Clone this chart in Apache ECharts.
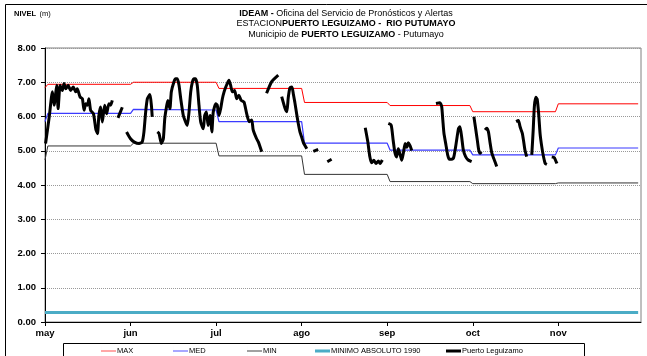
<!DOCTYPE html>
<html><head><meta charset="utf-8">
<script src="https://cdn.jsdelivr.net/npm/echarts@6/dist/echarts.min.js"></script>
<style>html,body{margin:0;padding:0;background:#fff}#c{width:647px;height:356px}</style>
</head><body><div id="c"></div>
<script>
// Month tick labels and their day positions (days since 1 May)
const monthLabels = ['may','jun','jul','ago','sep','oct','nov'];
const monthTicks = [0,30,60,90,120,150,180];
const yTicks = [0,1,2,3,4,5,6,7,8];

// Historical reference levels [day, level]
const maxLevel = [[0,6.84],[1,6.94],[30,6.94],[31,7.0],[60,7.0],[61,6.82],[90,6.82],[91,6.41],[120,6.41],[121,6.32],[149,6.32],[150,6.14],[179,6.14],[180,6.37],[208,6.37]];
const medLevel = [[0,5.85],[1,6.09],[30,6.09],[31,6.21],[60,6.19],[61,5.85],[90,5.85],[91,5.22],[120,5.22],[121,5.02],[149,5.02],[150,4.88],[179,4.88],[180,5.08],[208,5.08]];
const minLevel = [[0,4.73],[1,5.14],[30,5.14],[31,5.22],[60,5.22],[61,4.85],[90,4.85],[91,4.31],[120,4.31],[121,4.10],[149,4.10],[150,4.04],[179,4.04],[180,4.06],[208,4.06]];
const minAbs1990 = [[0,0.28],[208,0.28]];

// Observed levels, Puerto Leguizamo (segments separated by missing data)
const obs1 = [[0.2,5.21],[1.5,6.0],[2.6,6.72],[3.2,6.33],[4.1,6.91],[4.6,6.23],[5.3,6.91],[6.1,6.76],[6.7,6.96],[7.3,6.81],[8.1,6.91],[9.0,6.76],[9.9,6.86],[10.8,6.72],[11.3,6.81],[12.3,6.57],[13.1,6.52],[13.7,6.18],[14.3,6.37],[14.9,6.33],[15.4,6.52],[16.0,6.18],[17.0,6.08],[17.8,5.64],[18.4,5.50],[18.9,6.03],[19.5,6.28],[20.1,5.84],[20.9,6.33],[21.6,6.08],[22.4,6.37],[23.0,6.33],[23.6,6.47]];
const obs2 = [[25.6,5.96],[27.1,6.27]];
const obs3 = [[28.6,5.55],[30.0,5.35],[31.2,5.26],[33.0,5.21],[34.1,5.26],[34.7,5.55],[35.3,6.13],[35.9,6.52],[36.8,6.64],[37.3,6.33],[37.6,5.99]];
const obs4 = [[39.4,5.55],[40.0,5.50],[40.8,5.21],[41.5,5.35],[42.0,5.94],[42.7,6.33],[43.1,6.47],[43.8,6.23],[44.3,6.72],[45.2,7.01],[45.8,7.10],[46.4,7.10],[47.0,6.91],[47.6,6.52],[48.5,6.03],[49.3,5.84],[49.9,5.74],[50.5,6.13],[51.1,6.72],[51.7,7.01],[52.3,7.10],[52.8,7.10],[53.4,6.91],[54.0,6.33],[54.6,5.84],[55.5,5.64],[56.0,6.03],[56.6,6.13],[57.2,5.74],[57.9,6.03],[58.5,5.55],[59.0,6.13],[59.9,6.37],[60.4,6.33],[61.0,6.03],[61.6,6.23],[62.2,6.52],[62.8,6.72],[63.4,6.86],[63.9,6.96],[64.5,7.06],[65.1,6.91],[65.7,6.72],[66.5,6.76],[67.2,6.52],[68.0,6.62],[68.8,6.47],[69.8,6.42],[70.7,6.09],[71.6,5.85],[72.5,5.90],[73.0,5.61],[74.2,5.35],[74.8,5.26],[76.0,4.97]];
const obs5 = [[77.7,6.68],[79.5,7.02],[81.8,7.21]];
const obs6 = [[83.0,6.58],[84.2,6.23],[84.8,6.14],[85.3,6.55],[85.9,6.84],[86.6,6.86],[87.1,6.65],[87.6,6.42],[88.3,6.05],[88.8,5.80],[89.4,5.55],[90.0,5.40],[90.6,5.24],[91.8,5.06]];
const obs7 = [[94.1,4.98],[95.8,5.04]];
const obs8 = [[99.0,4.68],[100.5,4.75]];
const obs9 = [[112.3,5.67],[113.2,5.26],[113.9,4.83],[114.5,4.65],[115.3,4.72],[116.1,4.63],[116.9,4.70],[117.5,4.63],[118.3,4.73]];
const obs10 = [[120.4,5.80],[121.4,5.75],[122.1,5.30],[122.7,4.95],[123.3,4.82],[123.9,5.06],[124.5,4.90],[125.1,4.72],[125.7,4.95],[126.3,5.21],[126.9,5.10],[127.4,5.23],[128.0,5.15],[128.6,5.01]];
const obs11 = [[137.1,6.38],[138.5,6.40],[139.1,6.29],[139.5,5.90],[139.9,5.51],[140.6,5.17],[141.2,4.88],[141.8,4.75],[143.2,4.78],[144.0,5.12],[145.0,5.65],[145.5,5.70],[146.1,5.41],[146.7,5.02],[147.5,4.83],[148.4,4.73],[149.6,4.68]];
const obs12 = [[150.4,5.99],[151.1,5.60],[151.6,5.31],[152.1,5.02],[152.6,4.93],[153.0,4.97]];
const obs13 = [[154.3,5.61],[154.9,5.66],[155.5,5.55],[156.1,5.22],[156.7,4.93],[157.8,4.68],[158.4,4.54]];
const obs14 = [[165.2,5.85],[166.0,5.88],[166.6,5.70],[167.0,5.60],[167.4,5.50],[167.8,5.30],[168.3,5.02],[168.9,4.83]];
const obs15 = [[170.7,4.88],[171.2,5.61],[171.6,6.29],[172.1,6.56],[172.6,6.50],[173.1,6.09],[173.6,5.51],[174.2,5.12],[174.8,4.83],[175.4,4.63],[176.0,4.60]];
const obs16 = [[177.7,4.82],[178.6,4.80],[179.5,4.63]];
const obsSegments = [obs1,obs2,obs3,obs4,obs5,obs6,obs7,obs8,obs9,obs10,obs11,obs12,obs13,obs14,obs15,obs16];

const FONT = 'Liberation Sans, Arial, sans-serif';
const chart = echarts.init(document.getElementById('c'), null, {renderer:'canvas'});

const refLine = (name, data, color, width) => ({
  name, type:'line', data, symbol:'none', silent:true, animation:false,
  lineStyle:{color, width}, itemStyle:{color}, z:2
});

const series = [
  refLine('MAX', maxLevel, '#ff0000', 1),
  refLine('MED', medLevel, '#3b3bff', 1.2),
  refLine('MIN', minLevel, '#333333', 1),
  refLine('MINIMO ABSOLUTO 1990', minAbs1990, '#4bacc6', 3)
];
obsSegments.forEach(seg => series.push({
  name:'Puerto Leguizamo', type:'line', data:seg, symbol:'none', smooth:0.2,
  animation:false, lineStyle:{color:'#000', width:3}, itemStyle:{color:'#000'}, z:5
}));

// legend icon: a horizontal bar of given thickness inside a 15x10 box
const barIcon = t => `path://M0,${5 - t/2}H15V${5 + t/2}H0Z M0,0H0.01V10H0Z`;
const legendPos = [['MAX',101,1,'#ff5050'],['MED',173,1,'#5050ff'],['MIN',247,1,'#444444'],['MINIMO ABSOLUTO 1990',315,3,'#4bacc6'],['Puerto Leguizamo',446,3,'#000000']];

chart.setOption({
  animation:false,
  backgroundColor:'#fff',
  title:{
    left:341, top:3, textAlign:'center',
    text:'{b|IDEAM - }{n|Oficina del Servicio de Pronósticos y Alertas}\n{n|ESTACION}{b|PUERTO LEGUIZAMO -  RIO PUTUMAYO}\n{n|Municipio de }{b|PUERTO LEGUIZAMO}{n| - Putumayo}',
    textStyle:{
      fontFamily:FONT, fontSize:9, fontWeight:'normal', lineHeight:10.5, color:'#000',
      rich:{
        b:{fontFamily:FONT, fontSize:9, fontWeight:'bold', lineHeight:10.5, color:'#000'},
        n:{fontFamily:FONT, fontSize:9, fontWeight:'normal', lineHeight:10.5, color:'#000'}
      }
    }
  },
  graphic:[
    {type:'rect', shape:{x:5.5, y:4.5, width:650, height:360}, style:{fill:'none', stroke:'#000', lineWidth:1}, silent:true, z:-1},
    {type:'text', x:14, y:8, style:{text:'{b|NIVEL} {n|(m)}', rich:{b:{fontFamily:FONT,fontSize:7.5,fontWeight:'bold',fill:'#000'}, n:{fontFamily:FONT,fontSize:7.5,fill:'#000'}}}},
    {type:'rect', shape:{x:63.5, y:343.5, width:521, height:20}, style:{fill:'#fff', stroke:'#000', lineWidth:1}, silent:true, z:0}
  ],
  legend: legendPos.map(([name, left, t, col]) => ({
    data:[{name, icon:barIcon(t), itemStyle:{color:col, borderWidth:0}}], left, top:346, itemWidth:15, itemHeight:10, itemGap:2, padding:0,
    selectedMode:false, textStyle:{fontFamily:FONT, fontSize:7.5, color:'#000', padding:[0,0,0,-4]}, z:5
  })),
  grid:{left:45, right:6, top:48, bottom:34, show:true, borderColor:'#808080', borderWidth:1, containLabel:false},
  xAxis:{
    type:'value', min:0, max:209,
    axisLine:{show:true, lineStyle:{color:'#000', width:1}},
    axisTick:{show:true, length:4, customValues:monthTicks, lineStyle:{color:'#000'}},
    axisLabel:{customValues:monthTicks, formatter:v => monthLabels[monthTicks.indexOf(v)] || '', fontFamily:FONT, fontSize:9.5, fontWeight:'bold', color:'#000', margin:6},
    splitLine:{show:false}
  },
  yAxis:{
    type:'value', min:0, max:8, interval:1,
    axisLine:{show:true, lineStyle:{color:'#000', width:1}},
    axisTick:{show:true, length:4, lineStyle:{color:'#000'}},
    axisLabel:{formatter:v => v.toFixed(2), fontFamily:FONT, fontSize:9.5, fontWeight:'bold', color:'#000', margin:9},
    splitLine:{show:true, lineStyle:{color:'#999', type:'dotted', width:1}}
  },
  series
});
</script></body></html>
